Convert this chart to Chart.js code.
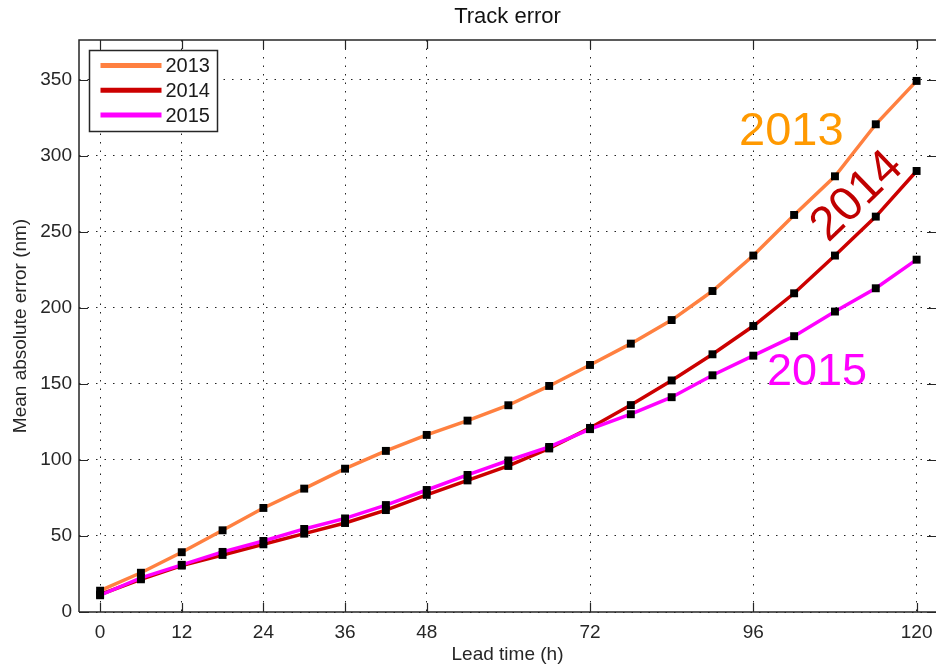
<!DOCTYPE html>
<html>
<head>
<meta charset="utf-8">
<script src="https://cdn.jsdelivr.net/npm/chart.js@4.4.1/dist/chart.umd.min.js"></script>
<style>
  html, body { margin: 0; padding: 0; background: #ffffff; }
  #wrap { width: 936px; height: 670px; }
</style>
</head>
<body>
<div id="wrap"><canvas id="c" width="936" height="670"></canvas></div>
<script>
// Lead times (h) and mean absolute track error (nm) per season
const leadHours = [0, 6, 12, 18, 24, 30, 36, 42, 48, 54, 60, 66, 72, 78, 84, 90, 96, 102, 108, 114, 120];
const err2013 = [14, 25.8, 39.3, 53.7, 68.4, 81.1, 94.2, 105.9, 116.4, 125.8, 135.9, 148.6, 162.4, 176.4, 191.9, 211, 234.3, 261, 286.4, 320.6, 349.1];
const err2014 = [11.5, 21.5, 30.5, 37.5, 44.5, 51.5, 58.5, 67, 77, 86.5, 96, 107.5, 121, 136, 152.2, 169.4, 188, 209.5, 234.3, 259.9, 289.9];
const err2015 = [11, 22.5, 31, 39.5, 46.7, 54.6, 61.5, 70.3, 80.2, 90.1, 99.6, 108.5, 120.2, 130, 141.2, 155.6, 168.5, 181.3, 197.5, 212.8, 231.6];

const seasonNames = ['2013', '2014', '2015'];
const xTickValues = [0, 12, 24, 36, 48, 72, 96, 120];
const yTickValues = [0, 50, 100, 150, 200, 250, 300, 350];

const lineColors = ['#ff8040', '#cc0000', '#ff00ff'];
const tagColors = ['#ff9900', '#c00000', '#ff00ff'];

// In-plot season tags, anchored in data units (lead time, error)
const tagAnchors = [
  { text: '2013', x: 93.9, y: 307, angle: 0, align: 'left', baseline: 'alphabetic', size: 47 },
  { text: '2014', x: 111.3, y: 273, angle: -44, align: 'center', baseline: 'middle', size: 48 },
  { text: '2015', x: 98.0, y: 149, angle: 0, align: 'left', baseline: 'alphabetic', size: 45 }
];

const FONT = '"Liberation Sans", Arial, Helvetica, sans-serif';
const INK = '#262626';

function series(values) {
  return leadHours.map((h, i) => ({ x: h, y: values[i] }));
}

function makeDataset(label, values, color, order) {
  return {
    label: label,
    data: series(values),
    borderColor: color,
    backgroundColor: color,
    borderWidth: 3.5,
    tension: 0,
    pointStyle: 'rect',
    pointRadius: 5.6,
    pointHoverRadius: 5.6,
    pointBackgroundColor: '#000000',
    pointBorderColor: '#000000',
    pointBorderWidth: 0,
    clip: false,
    order: order
  };
}

// Box frame, inward tick marks, legend and season tags
const decorations = {
  id: 'decorations',
  afterDatasetsDraw(chart) {
    const ctx = chart.ctx;
    const a = chart.chartArea;
    const xs = chart.scales.x;
    const ys = chart.scales.y;
    ctx.save();

    // frame
    ctx.strokeStyle = INK;
    ctx.lineWidth = 1.5;
    ctx.beginPath();
    ctx.moveTo(a.left, a.bottom);
    ctx.lineTo(a.left, a.top);
    ctx.lineTo(a.right, a.top);
    ctx.moveTo(a.left, a.bottom);
    ctx.lineTo(a.right, a.bottom);
    ctx.stroke();

    // tick marks pointing into the plot
    const tl = 9;
    ctx.lineWidth = 1.2;
    ctx.beginPath();
    xTickValues.forEach(v => {
      const px = Math.round(xs.getPixelForValue(v)) + 0.5;
      ctx.moveTo(px, a.bottom); ctx.lineTo(px, a.bottom - tl);
      ctx.moveTo(px, a.top); ctx.lineTo(px, a.top + tl);
    });
    yTickValues.forEach(v => {
      const py = Math.round(ys.getPixelForValue(v)) + 0.5;
      ctx.moveTo(a.left, py); ctx.lineTo(a.left + tl, py);
      ctx.moveTo(a.right, py); ctx.lineTo(a.right - tl, py);
    });
    ctx.stroke();

    // legend box
    const lx = a.left + 10.5, ly = a.top + 10.5, lw = 128, lh = 81;
    ctx.fillStyle = '#ffffff';
    ctx.fillRect(lx, ly, lw, lh);
    ctx.strokeStyle = INK;
    ctx.lineWidth = 1.5;
    ctx.strokeRect(lx, ly, lw, lh);
    ctx.font = '20px ' + FONT;
    ctx.textAlign = 'left';
    ctx.textBaseline = 'middle';
    seasonNames.forEach((name, i) => {
      const rowY = ly + 15 + i * 24.8;
      ctx.strokeStyle = lineColors[i];
      ctx.lineWidth = 5;
      ctx.beginPath();
      ctx.moveTo(lx + 11, rowY);
      ctx.lineTo(lx + 72, rowY);
      ctx.stroke();
      ctx.fillStyle = '#1a1a1a';
      ctx.fillText(name, lx + 76, rowY + 1);
    });

    // season tags
    tagAnchors.forEach((t, i) => {
      const px = xs.getPixelForValue(t.x);
      const py = ys.getPixelForValue(t.y);
      ctx.save();
      ctx.translate(px, py);
      ctx.rotate(t.angle * Math.PI / 180);
      ctx.font = t.size + 'px ' + FONT;
      ctx.fillStyle = tagColors[i];
      ctx.textAlign = t.align;
      ctx.textBaseline = t.baseline;
      ctx.fillText(t.text, 0, 0);
      ctx.restore();
    });

    ctx.restore();
  }
};

new Chart(document.getElementById('c'), {
  type: 'line',
  data: {
    datasets: [
      makeDataset(seasonNames[0], err2013, lineColors[0], 2),
      makeDataset(seasonNames[1], err2014, lineColors[1], 1),
      makeDataset(seasonNames[2], err2015, lineColors[2], 0)
    ]
  },
  options: {
    responsive: false,
    animation: false,
    devicePixelRatio: 1,
    layout: { autoPadding: false, padding: { top: 0, right: 0, bottom: 0, left: 0 } },
    plugins: {
      legend: { display: false },
      tooltip: { enabled: false },
      title: {
        display: true,
        text: 'Track error',
        fullSize: false,
        color: '#111111',
        font: { family: FONT, size: 22, weight: 'normal' },
        padding: { top: 4, bottom: 9.6 }
      }
    },
    scales: {
      x: {
        type: 'linear',
        min: -3.1,
        max: 122.85,
        afterBuildTicks(scale) { scale.ticks = xTickValues.map(v => ({ value: v })); },
        afterFit(scale) {
          scale.height = 58;
          scale.paddingLeft = 0;
          scale.paddingRight = 0;
        },
        grid: {
          color: '#222222',
          lineWidth: 1,
          drawTicks: false
        },
        border: { display: false, dash: [1.5, 7] },
        ticks: {
          color: INK,
          padding: 9,
          maxRotation: 0,
          autoSkip: false,
          font: { family: FONT, size: 19 }
        },
        title: {
          display: true,
          text: 'Lead time (h)',
          color: INK,
          font: { family: FONT, size: 19 },
          padding: { top: 0, bottom: 4 }
        }
      },
      y: {
        type: 'linear',
        min: 0,
        max: 376,
        afterBuildTicks(scale) { scale.ticks = yTickValues.map(v => ({ value: v })); },
        afterFit(scale) {
          scale.width = 79;
          scale.paddingTop = 0;
          scale.paddingBottom = 0;
        },
        grid: {
          color: '#222222',
          lineWidth: 1,
          drawTicks: false
        },
        border: { display: false, dash: [1.5, 7] },
        ticks: {
          color: INK,
          padding: 7,
          font: { family: FONT, size: 19 }
        },
        title: {
          display: true,
          text: 'Mean absolute error (nm)',
          color: INK,
          font: { family: FONT, size: 19 },
          padding: { top: 9, bottom: 0 }
        }
      }
    }
  },
  plugins: [decorations]
});
</script>
</body>
</html>
